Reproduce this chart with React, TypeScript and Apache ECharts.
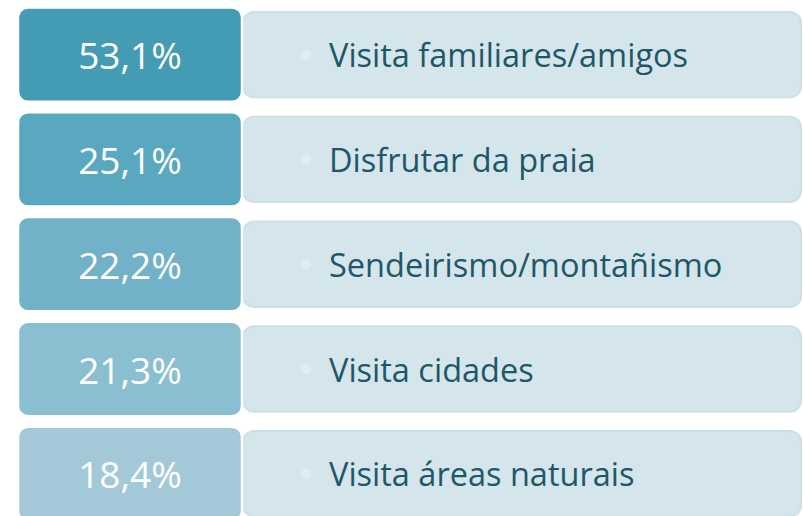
import React, { useEffect, useRef } from "react";
import * as echarts from "echarts";

const categories = [
  "Visita familiares/amigos",
  "Disfrutar da praia",
  "Sendeirismo/montañismo",
  "Visita cidades",
  "Visita áreas naturais",
];
const values = [53.1, 25.1, 22.2, 21.3, 18.4];
const boxColors = ["#439bb4", "#59a8bf", "#71b2c8", "#8abfd1", "#a3c9d9"];

const fmt = (v: number) => v.toFixed(1).replace(".", ",") + "%";

export default function App() {
  const ref = useRef<HTMLDivElement>(null);
  useEffect(() => {
    if (!ref.current) return;
    const chart = echarts.init(ref.current, null, { renderer: "svg" });
    const font = "'Open Sans', 'Noto Sans', sans-serif";
    chart.setOption({
      animation: false,
      backgroundColor: "#ffffff",
      grid: { left: 0, right: 0, top: 54.6, height: 419.2, containLabel: false },
      xAxis: { type: "value", min: 0, max: 803, show: false },
      yAxis: { type: "category", data: categories, inverse: true, boundaryGap: false, show: false },
      series: [
        {
          type: "custom",
          data: values.map((v, i) => [v, i]),
          clip: false,
          renderItem: (params: any, api: any) => {
            const idx = api.value(1);
            const val = api.value(0);
            const cy = api.coord([0, idx])[1];
            const band = api.size([0, 1])[1];
            const lh = band * 0.9;
            const rh = band * 0.815;
            const x0 = api.coord([18, idx])[0];
            const x1 = api.coord([242, idx])[0];
            const rx0 = api.coord([243, idx])[0];
            const rx1 = api.coord([801, idx])[0];
            const tx = api.coord([329, idx])[0];
            const bx = api.coord([306, idx])[0];
            return {
              type: "group",
              children: [
                {
                  type: "rect",
                  shape: { x: rx0, y: cy - rh / 2, width: rx1 - rx0, height: rh, r: 11 },
                  style: { fill: "#d4e5ec", stroke: "#cde0e8", lineWidth: 2 },
                },
                {
                  type: "circle",
                  shape: { cx: bx, cy: cy, r: 5 },
                  style: { fill: "#deedf2" },
                },
                {
                  type: "text",
                  x: tx,
                  y: cy,
                  style: {
                    text: categories[idx],
                    fill: "#1e5868",
                    font: `32.5px ${font}`,
                    textAlign: "left",
                    textVerticalAlign: "middle",
                  },
                },
                {
                  type: "rect",
                  shape: { x: x0, y: cy - lh / 2, width: x1 - x0, height: lh, r: 10 },
                  style: { fill: boxColors[idx], stroke: "#ffffff", lineWidth: 2.5 },
                },
                {
                  type: "text",
                  x: (x0 + x1) / 2,
                  y: cy,
                  style: {
                    text: fmt(val),
                    fill: "#ffffff",
                    font: `37px ${font}`,
                    textAlign: "center",
                    textVerticalAlign: "middle",
                  },
                },
              ],
            };
          },
        },
      ],
    });
    return () => chart.dispose();
  }, []);
  return <div ref={ref} style={{ width: 803, height: 516, position: "absolute", left: 0, top: 0 }} />;
}
